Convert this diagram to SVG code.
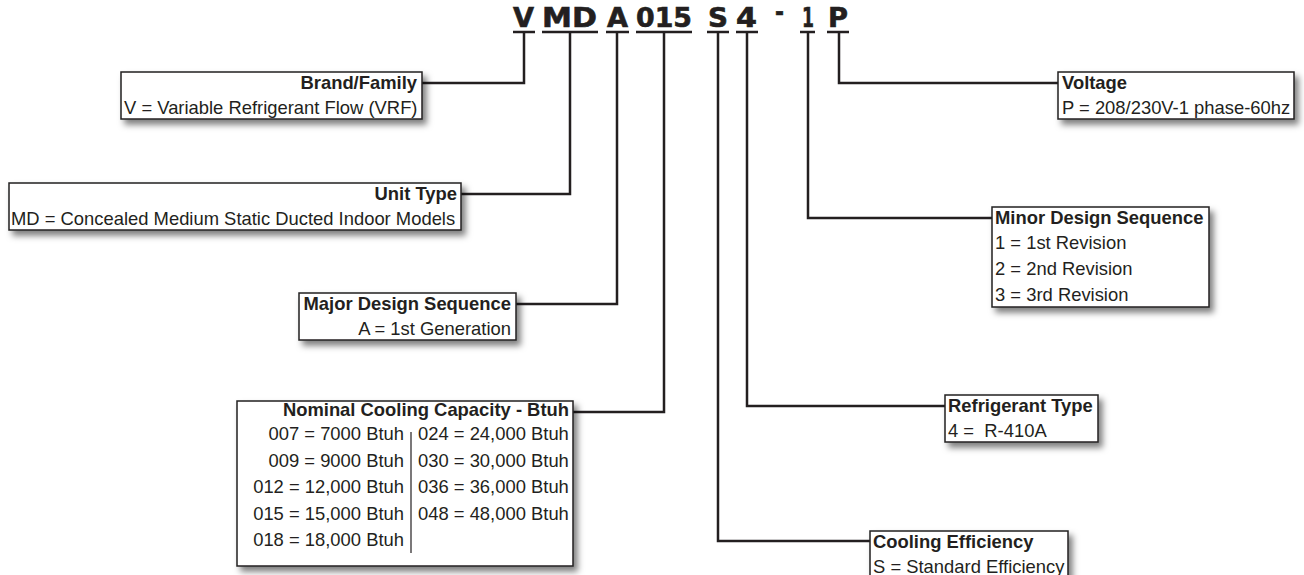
<svg xmlns="http://www.w3.org/2000/svg" width="1304" height="575" viewBox="0 0 1304 575">
<defs>
<filter id="sh" x="-10%" y="-20%" width="130%" height="160%">
<feDropShadow dx="4" dy="5" stdDeviation="3" flood-color="#000" flood-opacity="0.5"/>
</filter>
<style>
.box{fill:#fff;stroke:#231f20;stroke-width:1.5;filter:url(#sh)}
.t{font-family:"Liberation Sans",Arial,sans-serif;font-size:18.4px;fill:#231f20}
.b{font-weight:bold}
.e{text-anchor:end}
.code{font-family:"DejaVu Sans",sans-serif;font-weight:bold;font-size:26px;fill:#231f20;stroke:#231f20;stroke-width:0.6}
.ln{fill:none;stroke:#231f20;stroke-width:2.5}
.ul{stroke:#231f20;stroke-width:2.5}
</style>
</defs>
<rect width="1304" height="575" fill="#fff"/>
<g id="code">
<text class="code" x="513" y="27" textLength="21" lengthAdjust="spacingAndGlyphs">V</text>
<text class="code" x="542" y="27" textLength="55" lengthAdjust="spacingAndGlyphs">MD</text>
<text class="code" x="607" y="27" textLength="21" lengthAdjust="spacingAndGlyphs">A</text>
<text class="code" x="636" y="27" textLength="56" lengthAdjust="spacingAndGlyphs">015</text>
<text class="code" x="708" y="27" textLength="20" lengthAdjust="spacingAndGlyphs">S</text>
<text class="code" x="736" y="27" textLength="21" lengthAdjust="spacingAndGlyphs">4</text>
<text class="code" x="775" y="21" textLength="9" lengthAdjust="spacingAndGlyphs">-</text>
<text class="code" x="802" y="27" textLength="12" lengthAdjust="spacingAndGlyphs">1</text>
<text class="code" x="828" y="27" textLength="20" lengthAdjust="spacingAndGlyphs">P</text>
</g>
<g id="connectors">
<line class="ul" x1="513" y1="32" x2="535" y2="32"/>
<line class="ul" x1="542" y1="32" x2="598" y2="32"/>
<line class="ul" x1="606" y1="32" x2="629" y2="32"/>
<line class="ul" x1="636" y1="32" x2="692" y2="32"/>
<line class="ul" x1="707" y1="32" x2="729" y2="32"/>
<line class="ul" x1="736" y1="32" x2="758" y2="32"/>
<line class="ul" x1="800" y1="32" x2="815" y2="32"/>
<line class="ul" x1="827" y1="32" x2="849" y2="32"/>
<path class="ln" d="M524 32V83H422"/>
<path class="ln" d="M570 32V194H461"/>
<path class="ln" d="M617 32V304H516"/>
<path class="ln" d="M664 32V412H573"/>
<path class="ln" d="M718 32V541H870"/>
<path class="ln" d="M747 32V406H945"/>
<path class="ln" d="M808 32V218H992"/>
<path class="ln" d="M839 32V83H1058"/>
</g>
<g id="brand">
<rect class="box" x="121" y="72" width="301" height="47"/>
<text class="t b e" x="417" y="89">Brand/Family</text>
<text class="t" x="124" y="114">V = Variable Refrigerant Flow (VRF)</text>
</g>
<g id="unit">
<rect class="box" x="9" y="183" width="452" height="47"/>
<text class="t b e" x="457" y="200">Unit Type</text>
<text class="t" x="11" y="225">MD = Concealed Medium Static Ducted Indoor Models</text>
</g>
<g id="major">
<rect class="box" x="299" y="293" width="217" height="47"/>
<text class="t b e" x="511" y="310">Major Design Sequence</text>
<text class="t e" x="511" y="335">A = 1st Generation</text>
</g>
<g id="nominal">
<rect class="box" x="237" y="401" width="336" height="165"/>
<text class="t b e" x="569" y="416">Nominal Cooling Capacity - Btuh</text>
<line x1="411" y1="432" x2="411" y2="553" stroke="#231f20" stroke-width="1.2"/>
<text class="t e" x="404" y="440">007 = 7000 Btuh</text>
<text class="t e" x="404" y="467">009 = 9000 Btuh</text>
<text class="t e" x="404" y="493">012 = 12,000 Btuh</text>
<text class="t e" x="404" y="520">015 = 15,000 Btuh</text>
<text class="t e" x="404" y="546">018 = 18,000 Btuh</text>
<text class="t" x="418" y="440">024 = 24,000 Btuh</text>
<text class="t" x="418" y="467">030 = 30,000 Btuh</text>
<text class="t" x="418" y="493">036 = 36,000 Btuh</text>
<text class="t" x="418" y="520">048 = 48,000 Btuh</text>
</g>
<g id="voltage">
<rect class="box" x="1058" y="72" width="236" height="47"/>
<text class="t b" x="1062" y="89">Voltage</text>
<text class="t" x="1062" y="114">P = 208/230V-1 phase-60hz</text>
</g>
<g id="minor">
<rect class="box" x="992" y="207" width="217" height="100"/>
<text class="t b" x="995" y="224">Minor Design Sequence</text>
<text class="t" x="995" y="249">1 = 1st Revision</text>
<text class="t" x="995" y="275">2 = 2nd Revision</text>
<text class="t" x="995" y="301">3 = 3rd Revision</text>
</g>
<g id="refrigerant">
<rect class="box" x="945" y="395" width="153" height="47"/>
<text class="t b" x="948" y="412">Refrigerant Type</text>
<text class="t" x="948" y="437" style="white-space:pre" xml:space="preserve">4 =  R-410A</text>
</g>
<g id="cooling">
<rect class="box" x="870" y="531" width="198" height="50"/>
<text class="t b" x="873" y="548">Cooling Efficiency</text>
<text class="t" x="873" y="573">S = Standard Efficiency</text>
</g>
</svg>
